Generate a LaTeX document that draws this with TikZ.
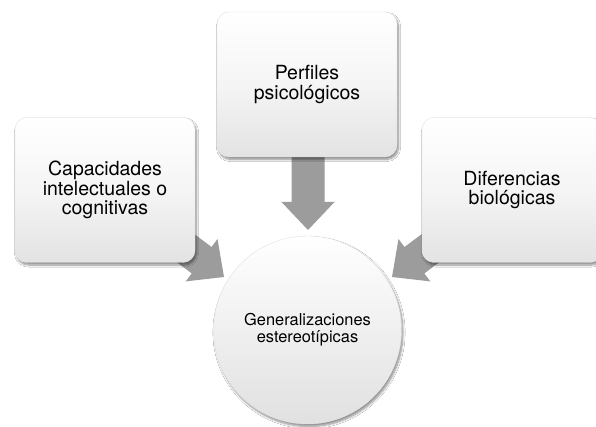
\documentclass[tikz,border=0pt]{standalone}
\usepackage{fontspec}
\setmainfont{TeX Gyre Heros}
\usetikzlibrary{calc,shadows.blur}
\definecolor{arrowgray}{HTML}{9C9C9C}
\definecolor{boxedge}{HTML}{E2E2E2}
\tikzset{
  pillbox/.style={draw=boxedge, line width=0.4pt, rounded corners=12pt,
    minimum width=180pt, minimum height=145pt, align=center,
    top color=white, bottom color=black!11, middle color=white!96!black,
    blur shadow={shadow xshift=1.5pt, shadow yshift=-2.5pt, shadow blur steps=8, shadow opacity=45},
    font=\fontsize{19.5}{19.5}\selectfont, inner sep=0pt},
  hubcircle/.style={circle, draw=boxedge, line width=0.4pt, minimum size=188pt, align=center,
    top color=white, bottom color=black!12,
    blur shadow={shadow xshift=1.5pt, shadow yshift=-2.5pt, shadow blur steps=8, shadow opacity=45},
    font=\fontsize{16.4}{17}\selectfont, inner sep=0pt},
  fatarrow/.style={fill=arrowgray, draw=none}
}
\newcommand{\fatarrowpath}[2]{%
  \path[fatarrow]
    ($(#1)!16.5pt!90:(#2)$) --
    ($($(#2)!28pt!(#1)$)!16.5pt!-90:(#1)$) --
    ($($(#2)!28pt!(#1)$)!26.5pt!-90:(#1)$) --
    (#2) --
    ($($(#2)!28pt!(#1)$)!26.5pt!90:(#1)$) --
    ($($(#2)!28pt!(#1)$)!16.5pt!90:(#1)$) --
    ($(#1)!16.5pt!-90:(#2)$) -- cycle;}
\begin{document}
\begin{tikzpicture}[x=1pt,y=-1pt]
  \fill[white] (0,0) rectangle (596,427);
  \useasboundingbox (0,0) rectangle (596,427);
  % arrows (drawn first, boxes cover their tails)
  \coordinate (tailT) at (308,140);
  \coordinate (tipT) at (308,230);
  \coordinate (tailL) at (168,235);
  \coordinate (tipL) at (224,277);
  \coordinate (tailR) at (448,235);
  \coordinate (tipR) at (392,277);
  \fatarrowpath{tailT}{tipT}
  \fatarrowpath{tailL}{tipL}
  \fatarrowpath{tailR}{tipR}
  % boxes
  \node[pillbox] (left) at (105,190) {Capacidades\\intelectuales o\\cognitivas};
  \node[pillbox] (top) at (307,84.5) {Perfiles\\psicológicos};
  \node[pillbox] (right) at (512,190) {Diferencias\\biológicas};
  \node[hubcircle] (hub) at (307.5,330) {Generalizaciones\\estereotípicas};
\end{tikzpicture}
\end{document}
